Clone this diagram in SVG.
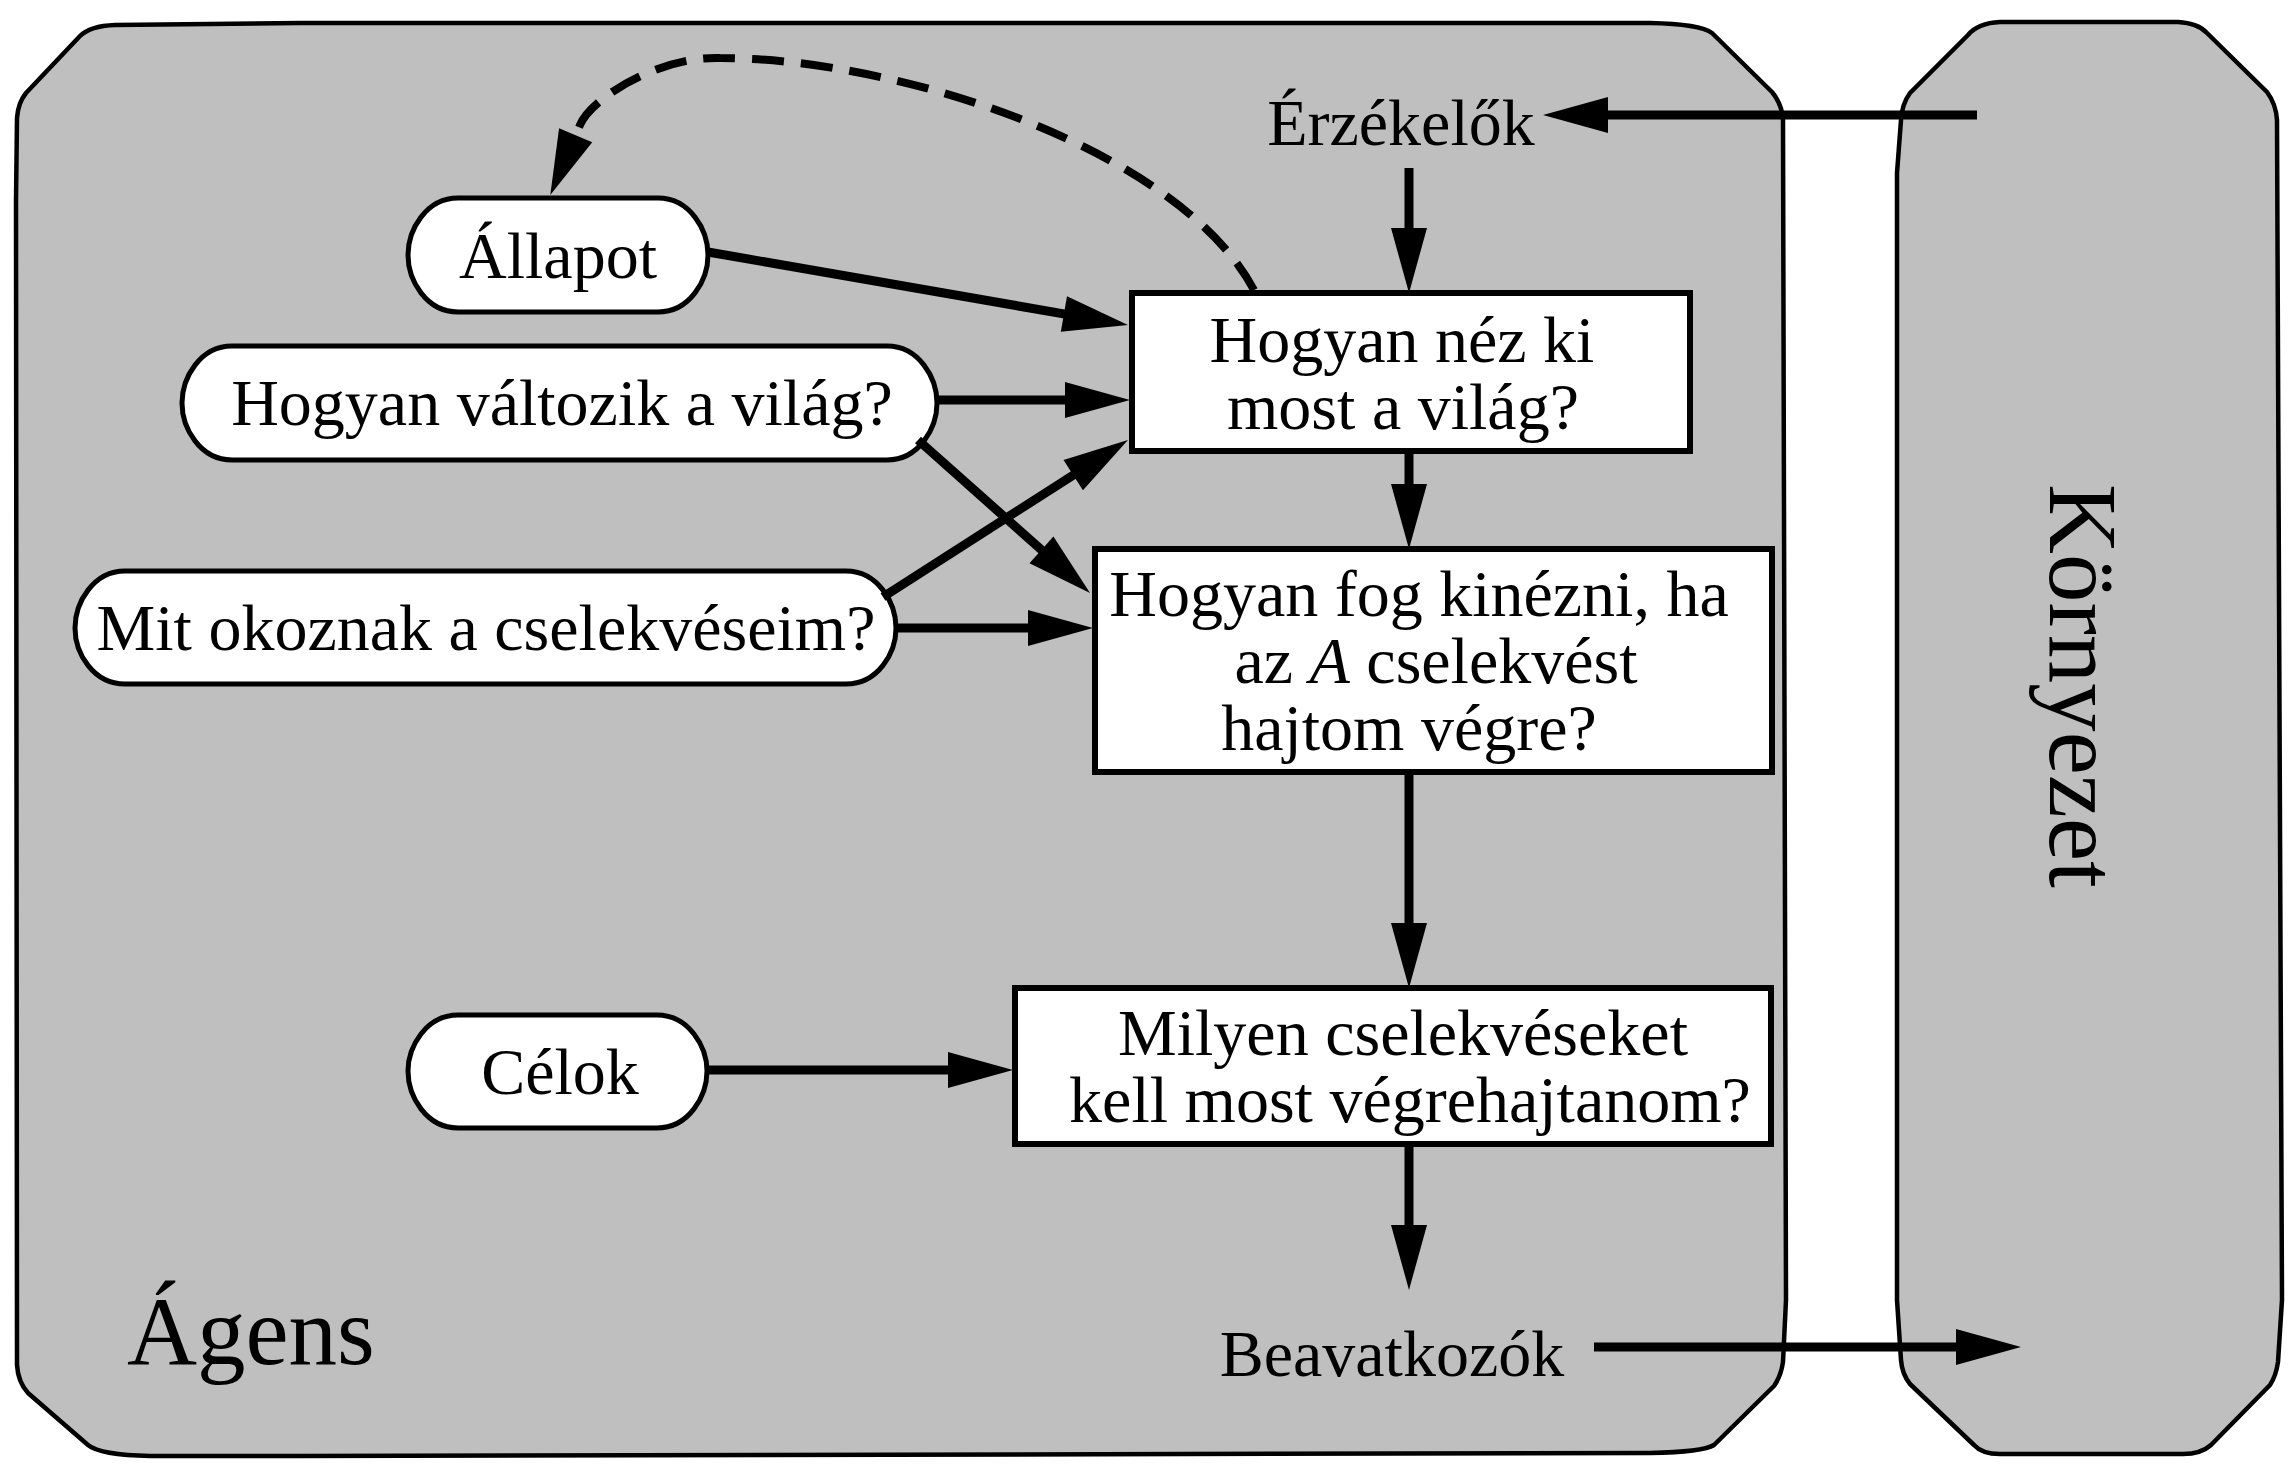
<svg xmlns="http://www.w3.org/2000/svg" width="2293" height="1474" viewBox="0 0 2293 1474">
<style>
.frame{fill:#bfbfbf;stroke:#000;stroke-width:4.5;stroke-linejoin:round}
.pill{fill:#fff;stroke:#000;stroke-width:5}
.box{fill:#fff;stroke:#000;stroke-width:6}
.t{font-family:"Liberation Serif","Times New Roman",serif;font-size:66px;fill:#000}
.big{font-family:"Liberation Serif","Times New Roman",serif;font-size:97px;fill:#000}
.c{text-anchor:middle}
.ln{fill:none;stroke:#000;stroke-width:9;marker-end:url(#ah)}
.dash{fill:none;stroke:#000;stroke-width:8;stroke-dasharray:32 17;marker-end:url(#ah)}
</style>
<defs>
<marker id="ah" markerUnits="userSpaceOnUse" markerWidth="65" markerHeight="36" refX="35" refY="18" orient="auto" overflow="visible">
<path d="M0,0 L65,18 L0,36 Z" fill="#000"/>
</marker>
</defs>
<rect width="2293" height="1474" fill="#fff"/>
<g id="agent">
<path class="frame" d="M16,200 L17,118 Q18,103 26,93 L80,36 Q90,26 115,25 L300,23 L1650,23 Q1700,24 1712,33 L1772,92 Q1782,104 1783,120 L1786,1300 L1783,1362 Q1781,1376 1774,1386 L1714,1445 Q1703,1452 1650,1453 L300,1456 L150,1456 Q100,1455 88,1445 L28,1393 Q18,1382 17,1365 Z"/>
<text class="big" x="127" y="1364">Ágens</text>
</g>
<g id="environment">
<path class="frame" d="M1901,120 Q1902,104 1910,93 L1968,35 Q1978,23 2000,22 L2178,22 Q2198,23 2207,33 L2267,92 Q2276,104 2277,120 L2282,1300 L2278,1362 Q2276,1376 2270,1385 L2211,1445 Q2201,1454 2183,1454 L2000,1454 Q1982,1454 1974,1445 L1910,1384 Q1902,1374 1901,1360 L1897,1300 L1897,173 Z"/>
<text class="big c" transform="translate(2050,686) rotate(90)">Környezet</text>
</g>
<g id="sensors"><text class="t c" x="1401" y="145">Érzékelők</text></g>
<g id="actuators"><text class="t c" x="1392" y="1376">Beavatkozók</text></g>
<g id="state">
<path class="pill" d="M458,198 L658,198 C690,198 708,230 708,255 C708,280 690,312 658,312 L458,312 C426,312 408,280 408,255 C408,230 426,198 458,198 Z"/>
<text class="t c" x="558" y="278">Állapot</text>
</g>
<g id="world-evolves">
<path class="pill" d="M232,346 L887,346 C919,346 937,378 937,403 C937,428 919,460 887,460 L232,460 C200,460 182,428 182,403 C182,378 200,346 232,346 Z"/>
<text class="t c" x="562" y="425">Hogyan változik a világ?</text>
</g>
<g id="actions-do">
<path class="pill" d="M125,571 L846,571 C878,571 896,603 896,628 C896,653 878,684 846,684 L125,684 C93,684 75,653 75,628 C75,603 93,571 125,571 Z"/>
<text class="t c" x="486" y="650">Mit okoznak a cselekvéseim?</text>
</g>
<g id="goals">
<path class="pill" d="M458,1015 L657,1015 C689,1015 707,1047 707,1071 C707,1096 689,1128 657,1128 L458,1128 C426,1128 408,1096 408,1071 C408,1047 426,1015 458,1015 Z"/>
<text class="t c" x="560" y="1094">Célok</text>
</g>
<g id="world-now">
<rect class="box" x="1132" y="293" width="558" height="158"/>
<text class="t c" x="1402" y="362">Hogyan néz ki</text>
<text class="t c" x="1403" y="429">most a világ?</text>
</g>
<g id="world-if">
<rect class="box" x="1095" y="549" width="677" height="223"/>
<text class="t c" x="1419" y="616">Hogyan fog kinézni, ha</text>
<text class="t c" x="1436" y="683">az <tspan font-style="italic">A</tspan> cselekvést</text>
<text class="t c" x="1409" y="750">hajtom végre?</text>
</g>
<g id="decide">
<rect class="box" x="1015" y="988" width="756" height="156"/>
<text class="t c" x="1403" y="1055">Milyen cselekvéseket</text>
<text class="t c" x="1410" y="1122">kell most végrehajtanom?</text>
</g>
<g id="connectors">
<path class="ln" d="M1977,115 L1573,115"/>
<path class="ln" d="M1409,168 L1409,263"/>
<path class="ln" d="M1409,451 L1409,519"/>
<path class="ln" d="M1409,772 L1409,958"/>
<path class="ln" d="M1409,1144 L1409,1260"/>
<path class="ln" d="M1594,1347 L1991,1347"/>
<path class="ln" d="M708,252 L1098.4,319.9"/>
<path class="ln" d="M937,400 L1100,400"/>
<path class="ln" d="M918,440 L1067.6,573.1"/>
<path class="ln" d="M883,597 L1102.7,456.2"/>
<path class="ln" d="M896,628 L1063,628"/>
<path class="ln" d="M707,1070 L983,1070"/>
<path class="dash" d="M1254,290 C1180,150 900,58 720,58 C660,56 592,97 580,125 L562,167.5"/>
</g>
</svg>
